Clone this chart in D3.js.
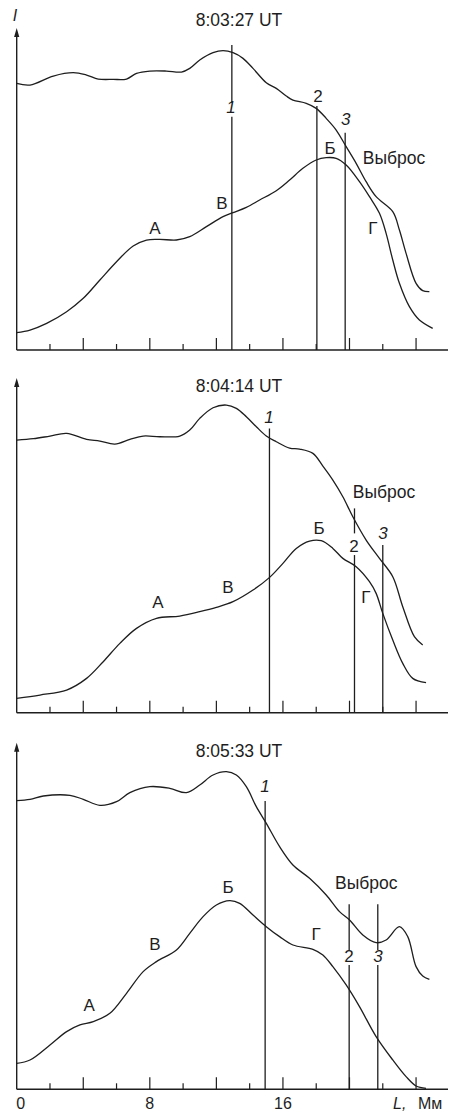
<!DOCTYPE html>
<html>
<head>
<meta charset="utf-8">
<script src="https://cdn.jsdelivr.net/npm/d3@7"></script>
<style>
  body { margin: 0; background: #fff; }
  text { font-family: "Liberation Sans", Arial, sans-serif; fill: #1e1e1e; }
</style>
</head>
<body>
<svg width="449" height="1113"></svg>
<script>
// profile intensity I along the cut L (Мм), three moments in time
var times = ["8:03:27 UT", "8:04:14 UT", "8:05:33 UT"];

var upper1 = [[0,80],[0.8,79.5],[2.2,82.2],[3.4,83.2],[4.2,82.5],[4.9,81.3],[5.8,81.2],[6.6,81.3],[7.2,83],[8,83.7],[9,83.7],[9.9,83.4],[10.4,84.5],[11,87],[11.8,89.2],[12.4,89.8],[13,89.2],[13.6,87.5],[14.2,84.5],[15,80.2],[15.6,78.5],[16.2,76.2],[16.6,75],[17.4,74],[18,72.5],[18.6,69.5],[19.2,66],[19.8,61],[20.4,56],[21,50.5],[21.6,46],[22.6,41.5],[23,36],[23.4,29],[24,20],[24.4,17.8],[24.8,17.5]];
var lower1 = [[0,5.2],[0.8,6],[1.8,8],[3,11.5],[4,15.5],[5,21],[6,26.5],[7,31.2],[7.8,33],[8.6,33.2],[9.6,33],[10.4,34],[11.4,37],[12.4,40],[13,41.2],[13.8,42.8],[14.6,45],[15.6,47.8],[16.4,51],[17.2,54.5],[18,57],[18.6,57.7],[19.2,57.5],[19.8,55.5],[20.6,50.5],[21.2,46],[21.8,41],[22.2,35],[22.6,27],[23,20],[23.6,13],[24.2,9],[25,6.5]];

var upper2 = [[0,81.8],[1,82.2],[2,83],[3,83.8],[4.2,82],[5,81.5],[5.9,80.6],[6.8,82],[7.6,83],[8.6,82.8],[9.8,83],[10.4,84.8],[11,88.3],[11.8,91.5],[12.6,92.3],[13.2,91.3],[13.8,88.8],[14.4,85.8],[15,83],[15.6,81.3],[16.4,79.4],[17,79.1],[17.8,77.8],[18.4,74],[19,69.8],[19.6,64.8],[20.2,58.8],[21,51.8],[21.8,46.3],[22.6,40.8],[23.2,31.8],[23.9,22.8],[24.4,20.3]];
var lower2 = [[0,4.3],[1.4,5.3],[3,6.8],[4.2,10.3],[5.2,15.3],[6.2,20.8],[7.2,25.3],[8.4,28.3],[9.8,29],[11,30.3],[12,31.6],[13,33.3],[14.2,36.8],[15.2,40.6],[16,44.8],[16.8,49.3],[17.6,51.5],[18.3,51.6],[19,49.3],[19.6,46.3],[20.4,43.8],[21.2,39.3],[21.6,35.8],[22,29.8],[22.6,21.8],[23.2,14.8],[23.8,10.3],[24.6,9]];

var upper3 = [[0,86.6],[0.8,87],[1.6,88],[3.2,88.2],[4,87],[5,85.2],[6,86.3],[6.8,89],[8,90.8],[9.2,90.3],[10.2,89],[11,91.3],[11.8,94.3],[12.6,95.3],[13.2,94.3],[13.8,90.8],[14.4,84.8],[15,79.8],[15.8,72.8],[16.6,67.3],[17.6,63.3],[18.6,58.3],[19.4,53.3],[20,50.8],[20.8,46.3],[21.6,44],[22.2,44.8],[23,48.8],[23.5,45.8],[24,36.8],[24.4,34],[24.8,33]];
var lower3 = [[0,7.8],[0.8,8.8],[2,13.3],[3,17.3],[3.8,19.3],[4.6,20.3],[5.6,22.8],[6.6,28.8],[7.6,35.3],[8.4,38.3],[9.6,41.8],[10.4,46.8],[11.2,51.8],[12,55.3],[12.8,56.6],[13.4,55.8],[14.2,52.3],[15,48.8],[15.8,45.8],[16.6,43.3],[17.8,42],[18.4,40.3],[19,36.8],[19.8,31.3],[20.6,24.8],[21.6,15.8],[22.6,8.8],[23.4,3.8],[24,1],[24.6,0.3]];

// cut lines 1, 2, 3: position L, segments of I (gaps leave room for the number)
var cuts1 = [{L:12.93, seg:[[0,70],[74.2,91.5]]}, {L:18.04, seg:[[0,73.2]]}, {L:19.74, seg:[[0,65.2]]}];
var cuts2 = [{L:15.19, seg:[[0,85.3]]}, {L:20.3, seg:[[0,47.3],[53.8,61.3]]}, {L:22.0, seg:[[0,50.3]]}];
var cuts3 = [{L:14.93, seg:[[0,86.5]]}, {L:19.98, seg:[[0,37.3],[41.8,55.5]]}, {L:21.7, seg:[[0,37.3],[41.8,55.5]]}];

// number labels of the cuts and letter marks: [text, L, I, italic]
var marks1 = [["1",12.88,71,1],["2",18.1,74.5,0],["3",19.77,67.5,1],["Б",18.83,58.8,0],["В",12.34,42.3,0],["А",8.31,34.8,0],["Г",21.4,34.8,0]];
var marks2 = [["1",15.16,86.9,1],["2",20.27,48.2,0],["3",22.01,52.1,1],["Б",18.17,53.6,0],["В",12.7,35.9,0],["А",8.49,31.4,0],["Г",20.99,32.9,0]];
var marks3 = [["1",14.92,89.2,1],["2",19.97,38.2,0],["3",21.71,38.2,1],["Б",12.7,58.9,0],["В",8.31,41.8,0],["А",4.35,23.5,0],["Г",17.99,44.8,0]];
var ejectaAt = [[20.8,55.8],[20.2,64.4],[19.13,60.1]];

var xTicks = d3.range(2, 26, 2);
var xLabels = [0, 8, 16];

var svg = d3.select("svg");
var ink = "#1e1e1e";

// common horizontal scale
var x = d3.scaleLinear().domain([0, 26]).range([16.7, 16.7 + 26 * 16.64]);

var panels = [
  {bottom: 350,   top: 28,    titleY: 26,  upper: upper1, lower: lower1, cuts: cuts1, marks: marks1},
  {bottom: 712.7, top: 378,   titleY: 392, upper: upper2, lower: lower2, cuts: cuts2, marks: marks2},
  {bottom: 1089.3, top: 742.7, titleY: 757, upper: upper3, lower: lower3, cuts: cuts3, marks: marks3}
];

panels.forEach(function(p, i) {
  var y = d3.scaleLinear().domain([0, 100]).range([p.bottom, p.bottom - 333.3]);
  var g = svg.append("g");

  // x axis line and ticks
  g.append("line")
      .attr("x1", x(0)).attr("x2", 448)
      .attr("y1", p.bottom).attr("y2", p.bottom)
      .attr("stroke", ink).attr("stroke-width", 1.4);
  g.selectAll(".tick")
    .data(xTicks)
    .enter().append("line")
      .attr("x1", function(d) { return x(d); })
      .attr("x2", function(d) { return x(d); })
      .attr("y1", p.bottom)
      .attr("y2", function(d) { return p.bottom - (d % 4 == 0 ? 12 : 6); })
      .attr("stroke", ink).attr("stroke-width", 1.2);

  // y axis with arrow
  g.append("line")
      .attr("x1", x(0)).attr("x2", x(0))
      .attr("y1", p.bottom).attr("y2", p.top + 4)
      .attr("stroke", ink).attr("stroke-width", 1.4);
  g.append("path")
      .attr("d", "M" + x(0) + "," + p.top + "l-2.6,9l5.2,0z")
      .attr("fill", ink);

  // title
  g.append("text")
      .attr("x", 239).attr("y", p.titleY)
      .attr("text-anchor", "middle")
      .attr("font-size", 17.5)
      .text(times[i]);

  // curves
  var line = d3.line()
      .x(function(d) { return x(d[0]); })
      .y(function(d) { return y(d[1]); })
      .curve(d3.curveCatmullRom.alpha(0.5));
  [p.upper, p.lower].forEach(function(c) {
    g.append("path")
        .attr("d", line(c))
        .attr("fill", "none")
        .attr("stroke", ink)
        .attr("stroke-width", 1.3);
  });

  // cut lines
  p.cuts.forEach(function(c) {
    c.seg.forEach(function(s) {
      g.append("line")
          .attr("x1", x(c.L)).attr("x2", x(c.L))
          .attr("y1", y(s[0])).attr("y2", y(s[1]))
          .attr("stroke", ink).attr("stroke-width", 1.3);
    });
  });

  // labels
  g.selectAll(".mark")
    .data(p.marks)
    .enter().append("text")
      .attr("x", function(d) { return x(d[1]); })
      .attr("y", function(d) { return y(d[2]); })
      .attr("text-anchor", "middle")
      .attr("font-size", 17)
      .attr("font-style", function(d) { return d[3] ? "italic" : "normal"; })
      .text(function(d) { return d[0]; });

  g.append("text")
      .attr("x", x(ejectaAt[i][0])).attr("y", y(ejectaAt[i][1]))
      .attr("font-size", 17.5)
      .text("Выброс");

  if (i == 0) {
    g.append("text")
        .attr("x", 15).attr("y", 21)
        .attr("text-anchor", "middle")
        .attr("font-size", 16)
        .attr("font-style", "italic")
        .text("I");
  }

  if (i == 2) {
    g.selectAll(".xl")
      .data(xLabels)
      .enter().append("text")
        .attr("x", function(d) { return x(d) + (d == 0 ? 4 : 0); })
        .attr("y", 1109)
        .attr("text-anchor", "middle")
        .attr("font-size", 16)
        .text(function(d) { return d; });
    g.append("text")
        .attr("x", 393).attr("y", 1109)
        .attr("font-size", 16)
        .attr("font-style", "italic")
        .text("L,");
    g.append("text")
        .attr("x", 418).attr("y", 1109)
        .attr("font-size", 16)
        .text("Мм");
  }
});
</script>
</body>
</html>
